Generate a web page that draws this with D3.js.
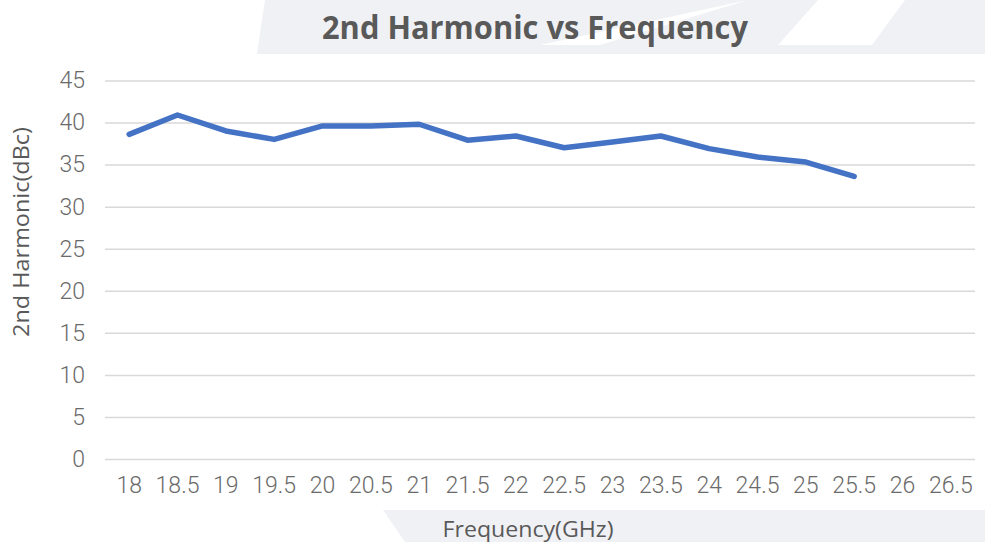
<!DOCTYPE html>
<html>
<head>
<meta charset="utf-8">
<script src="https://d3js.org/d3.v7.min.js"></script>
<style>
    body { margin: 0; background: #fff; }
    .tick text { font-family: Roboto, "Liberation Sans", sans-serif; font-weight: 300; }
</style>
</head>
<body>
<script>

    // values
    var frequencies = ["18", "18.5", "19", "19.5", "20", "20.5", "21", "21.5", "22",
        "22.5", "23", "23.5", "24", "24.5", "25", "25.5", "26", "26.5"];
    var harmonic = [38.6, 40.9, 39.0, 38.0, 39.6, 39.6, 39.8, 37.9, 38.4,
        37.0, 37.7, 38.4, 36.9, 35.9, 35.3, 33.6];
    var yTicks = [0, 5, 10, 15, 20, 25, 30, 35, 40, 45];

    var width = 985, height = 542;
    var plot = { left: 105, right: 975, top: 80.5, bottom: 459 };

    var svg = d3.select("body").append("svg")
        .attr("width", width)
        .attr("height", height);

    // faint background shapes
    var shade = "#f0f1f5";
    svg.append("polygon")
        .attr("points", "265,0 985,0 985,54 257,54")
        .style("fill", shade);
    svg.append("polygon")
        .attr("points", "540,45 748,0 600,45")
        .style("fill", "#fff");
    svg.append("polygon")
        .attr("points", "778,45 872,45 905,0 818,0")
        .style("fill", "#fff");
    svg.append("polygon")
        .attr("points", "383,510 985,510 985,542 405,542")
        .style("fill", shade);

    var x = d3.scaleBand()
        .domain(frequencies)
        .range([plot.left, plot.right]);

    var y = d3.scaleLinear()
        .domain([0, 45])
        .range([plot.bottom, plot.top]);

    // gridlines + y labels
    var yAxis = d3.axisLeft(y)
        .tickValues(yTicks)
        .tickSize(-(plot.right - plot.left))
        .tickPadding(20);

    var gy = svg.append("g")
        .attr("transform", "translate(" + plot.left + ",0)")
        .call(yAxis);
    gy.select(".domain").remove();
    gy.selectAll(".tick line")
        .style("stroke", "#d9d9d9")
        .style("stroke-width", 1.5);
    gy.selectAll(".tick text")
        .style("fill", "#6a6a6a")
        .style("font-size", "23px");

    var xAxis = d3.axisBottom(x)
        .tickSize(0)
        .tickPadding(18);

    var gx = svg.append("g")
        .attr("transform", "translate(0," + plot.bottom + ")")
        .call(xAxis);
    gx.select(".domain").remove();
    gx.selectAll(".tick text")
        .style("fill", "#6a6a6a")
        .style("font-size", "23px");

    var line = d3.line()
        .x(function (d, i) { return x(frequencies[i]) + x.bandwidth() / 2; })
        .y(function (d) { return y(d); });

    svg.append("path")
        .datum(harmonic)
        .attr("d", line)
        .style("fill", "none")
        .style("stroke", "#4472c4")
        .style("stroke-width", 5.5)
        .style("stroke-linejoin", "round")
        .style("stroke-linecap", "round");

    // titles (squeezed to the width of the narrow original font)
    svg.append("text")
        .attr("x", 535)
        .attr("y", 39)
        .attr("textLength", 426)
        .attr("lengthAdjust", "spacingAndGlyphs")
        .style("text-anchor", "middle")
        .style("font-family", "'Open Sans', sans-serif")
        .style("font-weight", "bold")
        .style("font-size", "33px")
        .style("fill", "#595959")
        .text("2nd Harmonic vs Frequency");

    svg.append("text")
        .attr("x", 528)
        .attr("y", 537)
        .attr("textLength", 171)
        .attr("lengthAdjust", "spacingAndGlyphs")
        .style("text-anchor", "middle")
        .style("font-family", "'Open Sans', sans-serif")
        .style("font-size", "21px")
        .style("fill", "#595959")
        .text("Frequency(GHz)");

    svg.append("text")
        .attr("transform", "translate(29,232) rotate(-90)")
        .attr("textLength", 210)
        .attr("lengthAdjust", "spacingAndGlyphs")
        .style("text-anchor", "middle")
        .style("font-family", "'Open Sans', sans-serif")
        .style("font-size", "21px")
        .style("fill", "#595959")
        .text("2nd Harmonic(dBc)");

</script>
</body>
</html>
